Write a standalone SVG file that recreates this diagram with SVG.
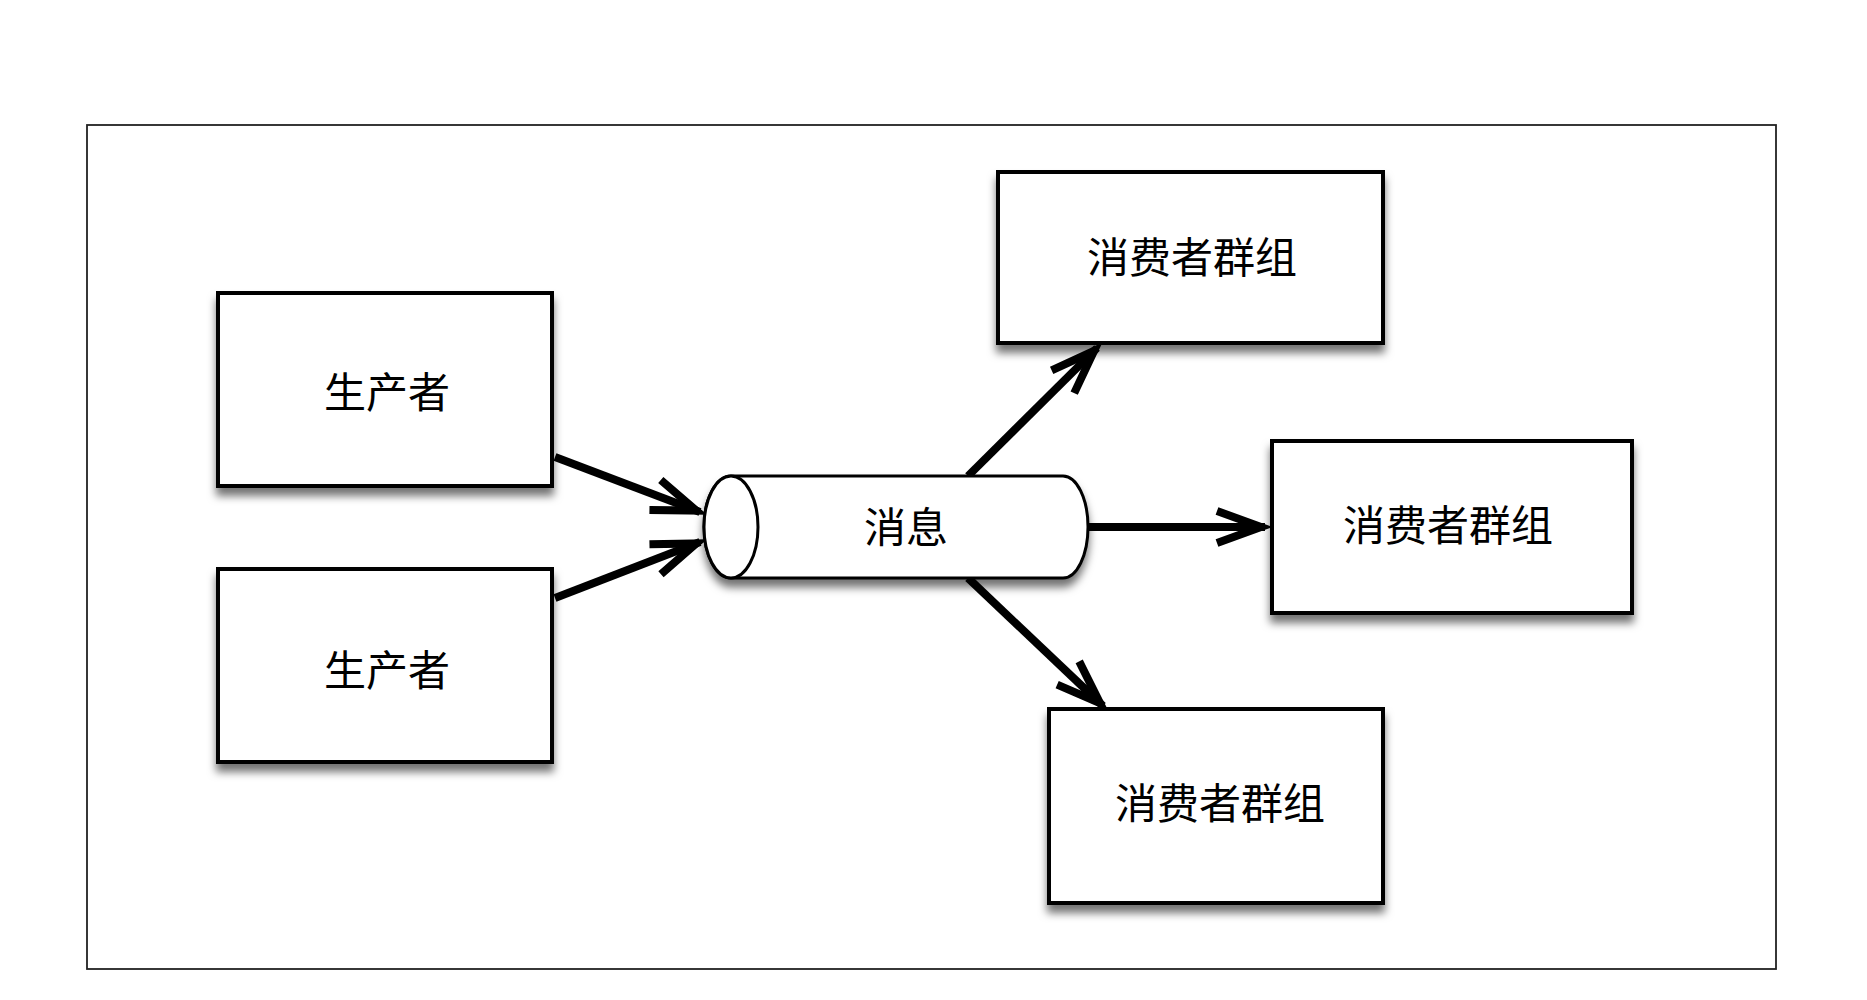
<svg xmlns="http://www.w3.org/2000/svg" width="1867" height="1000" viewBox="0 0 1867 1000">
  <defs>
    <filter id="shadow" x="-10%" y="-10%" width="120%" height="135%">
      <feDropShadow dx="0" dy="8" stdDeviation="4.5" flood-color="#000" flood-opacity="0.55"/>
    </filter>
    <marker id="arrow" markerUnits="userSpaceOnUse" markerWidth="70" markerHeight="60" viewBox="-60 -30 70 60" refX="0" refY="0" orient="auto">
      <path d="M -48 -16 L -4 0 L -48 16" fill="none" stroke="#000" stroke-width="8" stroke-linejoin="miter" stroke-miterlimit="10"/>
    </marker>
    <style>
      .box { fill: #fff; stroke: #000; stroke-width: 4; filter: url(#shadow); }
      .lbl { font-family: "Noto Sans CJK SC", "Noto Sans CJK TC", sans-serif; font-size: 42px; fill: #000; text-anchor: middle; }
      .conn { stroke: #000; stroke-width: 8; fill: none; marker-end: url(#arrow); }
    </style>
  </defs>
  <rect width="1867" height="1000" fill="#fff"/>
  <rect x="87" y="125" width="1689" height="844" fill="none" stroke="#222" stroke-width="1.8"/>

  <g id="connectors">
    <line class="conn" x1="555" y1="457" x2="700" y2="512"/>
    <line class="conn" x1="555" y1="598" x2="700" y2="542"/>
    <line class="conn" x1="968" y1="476" x2="1097" y2="348"/>
    <line class="conn" x1="1088" y1="527" x2="1265" y2="527"/>
    <line class="conn" x1="968" y1="578" x2="1103" y2="706"/>
  </g>

  <g id="producer1">
    <rect class="box" x="218" y="293" width="334" height="193"/>
    <text class="lbl" x="387" y="408">生产者</text>
  </g>
  <g id="producer2">
    <rect class="box" x="218" y="569" width="334" height="193"/>
    <text class="lbl" x="387" y="686">生产者</text>
  </g>

  <g id="topic">
    <path d="M 731 476 L 1063 476 A 25 51 0 0 1 1063 578 L 731 578 A 27 51 0 0 1 731 476 Z" fill="#fff" stroke="#000" stroke-width="3" filter="url(#shadow)"/>
    <ellipse cx="731" cy="527" rx="27" ry="51" fill="#fff" stroke="#000" stroke-width="3"/>
    <text class="lbl" x="906" y="543">消息</text>
  </g>

  <g id="consumer1">
    <rect class="box" x="998" y="172" width="385" height="171"/>
    <text class="lbl" x="1192" y="273">消费者群组</text>
  </g>
  <g id="consumer2">
    <rect class="box" x="1272" y="441" width="360" height="172"/>
    <text class="lbl" x="1448" y="541">消费者群组</text>
  </g>
  <g id="consumer3">
    <rect class="box" x="1049" y="709" width="334" height="194"/>
    <text class="lbl" x="1220" y="819">消费者群组</text>
  </g>
</svg>
